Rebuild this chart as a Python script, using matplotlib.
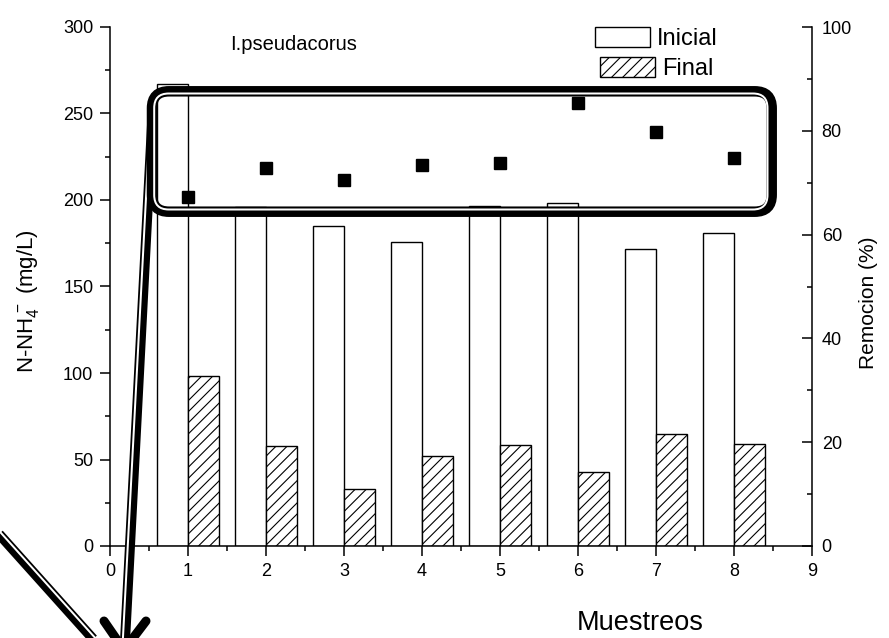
import matplotlib
matplotlib.use("Agg")
import matplotlib.pyplot as plt
from matplotlib.patches import FancyBboxPatch, Patch
from matplotlib.lines import Line2D
from matplotlib.ticker import MultipleLocator
import numpy as np

plt.rcParams["font.family"] = ["Liberation Sans", "DejaVu Sans"]
plt.rcParams["mathtext.fontset"] = "custom"
plt.rcParams["mathtext.rm"] = "Liberation Sans"
plt.rcParams["mathtext.it"] = "Liberation Sans:italic"
plt.rcParams["mathtext.default"] = "regular"
plt.rcParams["hatch.linewidth"] = 0.8

# ---- data ----
muestreos = [1, 2, 3, 4, 5, 6, 7, 8]
inicial = [267, 196, 185, 176, 196.5, 198.5, 171.5, 181]
final = [98, 58, 33, 52, 58.5, 43, 64.5, 59]
remocion = [67.2, 72.8, 70.6, 73.5, 73.7, 85.4, 79.8, 74.8]
xticks = list(range(0, 10))
yticks_left = [0, 50, 100, 150, 200, 250, 300]
yticks_right = [0, 20, 40, 60, 80, 100]

W, H = 889, 638
fig = plt.figure(figsize=(W / 100, H / 100), dpi=100)
ax = fig.add_axes([110 / W, 1 - 546 / H, 702 / W, 519 / H])
ax2 = ax.twinx()

x = np.array(muestreos, dtype=float)
bw = 0.4
ax.bar(x - bw / 2, inicial, bw, facecolor="white", edgecolor="black", linewidth=1.0)
ax.bar(x + bw / 2, final, bw, facecolor="white", edgecolor="black", linewidth=1.0,
       hatch="///")
ax2.plot(x, remocion, "s", color="black", markersize=8, linestyle="none")

ax.set_xlim(0, 9)
ax.set_ylim(0, 300)
ax2.set_ylim(0, 100)
ax.set_xticks(xticks)
ax.set_yticks(yticks_left)
ax2.set_yticks(yticks_right)
ax.xaxis.set_minor_locator(MultipleLocator(0.5))
ax.yaxis.set_minor_locator(MultipleLocator(25))
ax2.yaxis.set_minor_locator(MultipleLocator(10))

for s in ["top", "right"]:
    ax.spines[s].set_visible(False)
for s in ["top", "left", "bottom"]:
    ax2.spines[s].set_visible(False)
for sp in list(ax.spines.values()) + list(ax2.spines.values()):
    sp.set_linewidth(1.1)

fs_tick = 13
ax.tick_params(axis="both", which="major", direction="out", length=7, width=1.1,
               labelsize=fs_tick, pad=5)
ax.tick_params(axis="both", which="minor", direction="out", length=3.5, width=1.1)
ax2.tick_params(axis="y", which="major", direction="in", length=7, width=1.1,
                labelsize=fs_tick, pad=7)
ax2.tick_params(axis="y", which="minor", direction="in", length=3.5, width=1.1)

ax.set_xlabel("Muestreos", fontsize=19.5)
ax.xaxis.set_label_coords((640 - 110) / 702, -0.148)
ax.xaxis.label.set_va("center")
ax.set_ylabel(r"N-NH$_4^{\,-}$ (mg/L)", fontsize=16)
ax.yaxis.set_label_coords(-0.117, 0.472)
ax.yaxis.label.set_va("center")
ax2.set_ylabel("Remocion (%)", fontsize=15)
ax2.yaxis.set_label_coords(1.08, 0.468)
ax2.yaxis.label.set_va("center")

ax.text(1.54, 290, "I.pseudacorus", fontsize=14.5, ha="left", va="center")

# legend, one row each
fs_leg = 17
h_ini = Patch(facecolor="white", edgecolor="black", linewidth=1.0)
h_fin = Patch(facecolor="white", edgecolor="black", linewidth=1.0, hatch="///")
common = dict(frameon=False, borderpad=0, borderaxespad=0, handletextpad=0.3,
              handlelength=2.33, handleheight=0.95, fontsize=fs_leg, loc="upper left",
              bbox_transform=fig.transFigure)
leg1 = ax2.legend([h_ini], ["Inicial"], bbox_to_anchor=(595 / W, 1 - 27 / H), **common)
ax2.add_artist(leg1)
leg2 = ax2.legend([h_fin], ["Final"], bbox_to_anchor=(600 / W, 1 - 57 / H), **common)

# ---- callout: rounded double-line frame and arrows (pixel geometry) ----
tr = fig.dpi_scale_trans


def px(xp, yp):
    return xp / 100.0, (H - yp) / 100.0


def rbox(left, top, right, bottom, r, lw_px, color, z):
    x0, y0 = px(left, bottom)
    x1, y1 = px(right, top)
    p = FancyBboxPatch((x0, y0), x1 - x0, y1 - y0,
                       boxstyle=f"round,pad=0,rounding_size={r / 100.0}",
                       transform=tr, facecolor="none", edgecolor=color,
                       linewidth=lw_px * 0.72, zorder=z)
    fig.add_artist(p)


def dline(p0, p1, side, z):
    """thick black stroke with a thin parallel stroke on one side"""
    (xa, ya), (xb, yb) = p0, p1
    d = np.array([xb - xa, yb - ya], float)
    d /= np.hypot(*d)
    n = np.array([-d[1], d[0]]) * side
    band = 10.0
    a = np.array([xa, ya])
    b = np.array([xb, yb])
    xs, ys = zip(px(*a), px(*b))
    fig.add_artist(Line2D(xs, ys, transform=tr, color="black", lw=band * 0.72,
                          solid_capstyle="butt", zorder=z))
    a2 = a + n * 2.2
    b2 = b + n * 2.2
    xs, ys = zip(px(*a2), px(*b2))
    fig.add_artist(Line2D(xs, ys, transform=tr, color="white", lw=2.0 * 0.72,
                          solid_capstyle="butt", zorder=z + 0.1))


# arrow shaft and arrowhead
dline((152, 125), (124, 660), side=1, z=6)
dline((-10, 524), (112, 660), side=-1, z=6)
tip = (124, 650)
for arm in [(104, 621), (146, 621)]:
    xs, ys = zip(px(*arm), px(*tip))
    fig.add_artist(Line2D(xs, ys, transform=tr, color="black", lw=9 * 0.72,
                          solid_capstyle="round", zorder=7))

# frame
rbox(152, 91.3, 771.7, 211.7, 17, 10.5, "black", 8)
rbox(154.2, 93.5, 767.5, 209.5, 14.5, 2.0, "white", 8.1)

fig.savefig("out.png", dpi=100)
